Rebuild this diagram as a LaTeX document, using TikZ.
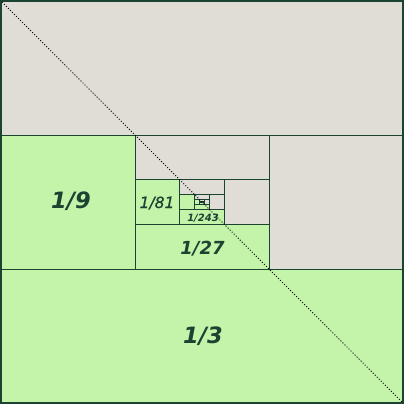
\documentclass[tikz,border=0pt]{standalone}
\usepackage{fontspec}
\setmainfont{DejaVu Sans}
\newfontfamily\semibfam[FakeBold=0.6]{DejaVu Sans}
\definecolor{gfill}{HTML}{C4F4AA}
\definecolor{greyfill}{HTML}{E0DCD6}
\definecolor{dk}{HTML}{1B4332}
\begin{document}
\begin{tikzpicture}[x=1pt,y=-1pt,
  cell/.style={draw=dk,line width=0.8pt},
  lab/.style={text=dk,inner sep=0pt}]
\useasboundingbox (0,0) rectangle (404,404);
\fill[greyfill] (0,0) rectangle (404,404);
\foreach \k in {0,...,4}{
  \pgfmathsetmacro\s{402/3^\k}
  \pgfmathsetmacro\a{1+201*(1-(1/3)^\k)}
  \pgfmathsetmacro\b{\a+\s/3}
  \pgfmathsetmacro\c{\a+2*\s/3}
  \pgfmathsetmacro\e{\a+\s}
  \draw[cell,fill=greyfill] (\a,\a) rectangle (\e,\b);
  \draw[cell,fill=gfill] (\a,\b) rectangle (\b,\c);
  \draw[cell,fill=greyfill] (\c,\b) rectangle (\e,\c);
  \draw[cell,fill=gfill] (\a,\c) rectangle (\e,\e);
  \draw[cell] (\b,\b) rectangle (\c,\c);
}
\node[lab,font=\fontsize{22.5}{27}\selectfont\bfseries\itshape] (l3) at (203,336.5) {1/3};
\node[lab,font=\fontsize{22.5}{27}\selectfont\bfseries\itshape] (l9) at (71,201.5) {1/9};
\node[lab,font=\fontsize{18}{22}\selectfont\bfseries\itshape] (l27) at (202.5,248.5) {1/27};
\node[lab,font=\fontsize{15.5}{19}\selectfont\semibfam\itshape] (l81) at (157,203) {1/81};
\node[lab,font=\fontsize{10}{12}\selectfont\bfseries\itshape] (l243) at (203,218) {1/243};
\coordinate (tl) at (0,0);
\coordinate (br) at (404,404);
\draw[black,line width=1pt,dash pattern=on 1pt off 1.85pt] (tl) -- (br);
\draw[dk,line width=2pt] (1,1) rectangle (403,403);
\end{tikzpicture}
\end{document}
